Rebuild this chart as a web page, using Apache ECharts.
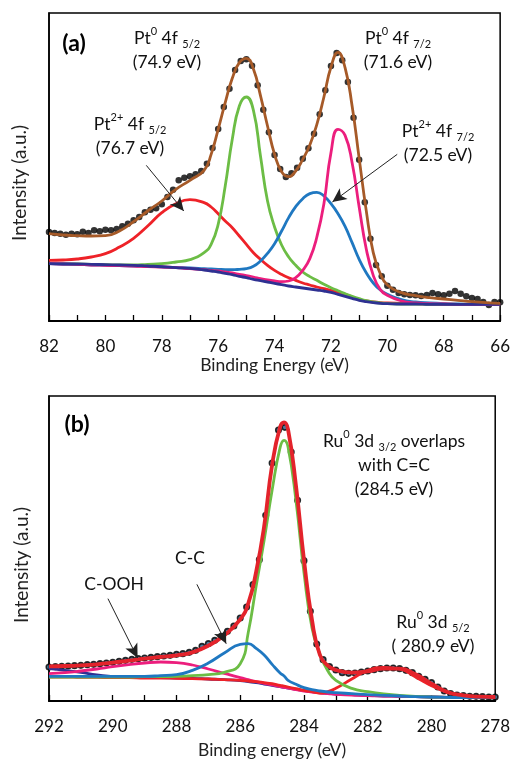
<!DOCTYPE html>
<html lang="en">
<head>
<meta charset="UTF-8">
<title>XPS Pt 4f / C 1s</title>
<script src="https://cdn.jsdelivr.net/npm/echarts@6/dist/echarts.min.js"></script>
<style>
  html, body { margin: 0; padding: 0; background: #fff; }
  #main { width: 513px; height: 760px; }
</style>
</head>
<body>
<div id="main"></div>
<script type="text/javascript">
// ---- panel (a): Pt 4f ----
// fitted curves, read on this energy grid (eV)
var eA = [82, 81.5, 81, 80.5, 80, 79.5, 79, 78.5, 78, 77.5, 77, 76.5, 76.25, 76, 75.75, 75.5, 75.25, 75, 74.75, 74.5,
          74.25, 74, 73.75, 73.5, 73.25, 73, 72.75, 72.5, 72.25, 72, 71.75, 71.5, 71.25, 71, 70.75, 70.5, 70.25, 70, 69.5, 69,
          68.5, 68, 67.5, 67, 66.5, 66];
var fitA   = [262,258,256,255,256,270,298,330,360,395,422,452,500,575,655,728,775,788,756,676,
              585,500,448,433,450,485,528,590,672,762,806,760,645,488,332,205,142,108,85,76,70,66,62,58,55,53];
var redA   = [182,183,186,192,202,222,248,285,325,352,364,355,342,322,300,280,255,230,205,185,
              167,152,140,130,122,114,108,102,97,92,86,80,72,64,60,57,55,54,53,52,51,51,50,50,50,50];
var greenA = [172,172,171,170,169,168,168,170,172,177,184,205,230,290,405,545,645,672,632,495,
              360,282,228,192,167,147,133,122,110,100,91,82,74,67,61,57,54,52,51,51,50,50,50,50,50,50];
var blueA  = [172,171,170,168,167,166,165,164,162,160,159,157,156,155,154,154,155,157,164,180,
              203,232,270,310,343,367,382,386,375,352,322,284,235,185,145,114,93,80,64,57,54,52,51,50,50,50];
var pinkA  = [172,171,170,168,167,166,165,163,162,160,157,154,152,150,147,144,140,136,132,127,
              123,120,118,120,130,152,187,252,352,505,575,557,475,342,217,137,94,77,60,54,52,51,50,50,50,50];
var bgA    = [172,171,171,170,169,168,167,165,163,160,158,153,150,147,143,139,134,130,125,121,
              117,113,109,105,102,99,96,93,90,86,80,74,68,62,58,55,53,52,51,51,50,50,50,50,50,50];
// measured points, every 0.2 eV from 82 down to 66
var dotA = [267,264,262,259,262,260,268,264,272,269,274,272,276,284,292,302,312,326,334,338,
            350,372,394,422,430,434,440,450,472,519,576,642,697,753,780,785,766,707,634,566,
            498,456,432,443,460,487,518,562,620,692,765,804,782,717,610,484,356,247,168,134,
            106,94,84,80,78,77,75,78,84,80,77,82,90,82,74,69,66,57,48,57,56];

// ---- panel (b): C 1s / Ru 3d ----
var eB = [292, 291.5, 291, 290.5, 290, 289.5, 289, 288.5, 288, 287.5, 287, 286.5, 286, 285.75, 285.5, 285.25, 285, 284.75,
          284.625, 284.5, 284.25, 284, 283.75, 283.5, 283.25, 283, 282.5, 282, 281.5, 281, 280.5, 280, 279.5, 279, 278.5, 278];
var fitB   = [104,105,107,110,115,121,127,132,137,146,166,197,245,292,388,524,708,822,
              836,815,645,424,244,138,106,93,85,89,97,97,80,52,27,17,13,12];
var greenB = [72,72,72,72,72,72,73,73,74,76,79,86,112,205,345,482,632,760,
              782,762,600,385,220,140,90,62,38,28,21,17,14,12,11,10,10,10];
var blueB  = [74,74,74,74,74,74,74,76,79,92,114,144,170,172,158,138,110,84,
              75,62,50,40,34,30,27,25,22,19,17,15,13,12,11,10,10,10];
var pinkB  = [82,85,90,96,103,109,114,117,115,108,96,83,70,64,58,53,48,43,
              41,39,34,30,27,24,22,20,18,16,15,14,13,12,11,10,10,10];
var redB   = [72,72,71,71,70,70,69,69,68,67,66,64,62,60,58,55,52,47,
              45,42,37,32,28,24,28,38,66,92,101,96,72,46,26,16,13,12];
var bgB    = [97,92,86,78,74,72,71,70,69,68,66,64,61,58,55,51,47,43,
              41,39,35,31,28,25,23,21,19,17,15,14,13,12,11,10,10,10];
// measured points, every 0.2 eV from 292 down to 278
var dotB = [102,103,104,105,106,107,109,110,112,114,116,119,122,125,127,129,131,133,135,137,
            140,142,146,152,164,172,182,194,209,225,249,282,349,424,557,714,813,821,747,602,
            421,269,171,124,103,93,85,83,84,87,90,94,97,99,99,97,92,85,74,65,
            55,42,30,22,18,16,14,14,13,12,12];

var FONT = 'Lato';

function pairs(xs, ys) {
    return xs.map(function (x, i) { return [x, ys[i]]; });
}
function sampled(start, step, ys) {
    return ys.map(function (y, i) { return [+(start - i * step).toFixed(2), y]; });
}
function curve(idx, xs, ys, color, width) {
    return {
        type: 'line', xAxisIndex: idx, yAxisIndex: idx,
        data: pairs(xs, ys), smooth: true, showSymbol: false, symbol: 'none',
        lineStyle: { color: color, width: width }, silent: true
    };
}
function arrows(list) {
    return {
        silent: true, symbol: ['none', 'arrow'], symbolSize: [10, 14],
        lineStyle: { color: '#222', width: 1, type: 'solid' },
        label: { show: false },
        data: list.map(function (a) { return [{ coord: [a[0], a[1]] }, { coord: [a[2], a[3]] }]; })
    };
}

var rich = {
    m:   { fontFamily: FONT, fontSize: 17.5, lineHeight: 24, color: '#111' },
    sup: { fontFamily: FONT, fontSize: 11, lineHeight: 16, verticalAlign: 'top', color: '#111' },
    sub: { fontFamily: FONT, fontSize: 11, lineHeight: 16, verticalAlign: 'bottom', color: '#111' }
};
function note(x, y, text) {
    return {
        type: 'text', x: x, y: y, silent: true,
        style: { text: text, rich: rich, fontFamily: FONT, fontSize: 17.5, fill: '#111',
                 textAlign: 'center', textVerticalAlign: 'top' }
    };
}
function tag(x, y, text) {
    return {
        type: 'text', x: x, y: y, silent: true,
        style: { text: text, fontFamily: FONT, fontSize: 23, fontWeight: 'bold', fill: '#000',
                 textAlign: 'center', textVerticalAlign: 'middle' }
    };
}
// rotated y title, placed by hand like in the figure
function yTitle(x, y) {
    return {
        type: 'text', x: x, y: y, rotation: Math.PI / 2, silent: true,
        style: { text: 'Intensity (a.u.)', fontFamily: FONT, fontSize: 19, fill: '#222',
                 textAlign: 'center', textVerticalAlign: 'middle' }
    };
}

function xAxisCfg(idx, min, max, name, gap) {
    return {
        type: 'value', gridIndex: idx, min: min, max: max, interval: 2, inverse: true,
        name: name, nameLocation: 'middle', nameGap: gap,
        nameTextStyle: { fontFamily: FONT, fontSize: 17.5, color: '#222' },
        axisLine: { show: true, lineStyle: { color: '#000', width: 2 } },
        axisTick: { show: true, inside: true, length: 6, lineStyle: { color: '#000', width: 1.3 } },
        minorTick: { show: true, splitNumber: 2, length: 6, lineStyle: { color: '#000', width: 1.3 } },
        axisLabel: { fontFamily: FONT, fontSize: 17, color: '#111', margin: 17 },
        splitLine: { show: false }
    };
}
function yAxisCfg(idx, max) {
    return {
        type: 'value', gridIndex: idx, min: 0, max: max,
        axisLine: { show: true, lineStyle: { color: '#000', width: 1.5 } },
        axisTick: { show: false }, axisLabel: { show: false }, splitLine: { show: false }
    };
}

var myChart = echarts.init(document.getElementById('main'), null, { renderer: 'canvas' });

var dotsA = {
    type: 'scatter', xAxisIndex: 0, yAxisIndex: 0, data: sampled(82, 0.2, dotA),
    symbolSize: 6.5, itemStyle: { color: '#000' }, silent: true,
    markLine: arrows([[78.55, 467, 77.22, 330], [69.65, 500, 71.95, 357]])
};
var dotsB = {
    type: 'scatter', xAxisIndex: 1, yAxisIndex: 1, data: sampled(292, 0.2, dotB),
    symbolSize: 5.5, itemStyle: { color: '#1f5a82', borderColor: '#000', borderWidth: 1.6 }, silent: true,
    markLine: arrows([[290.15, 307, 289.22, 129], [287.36, 350, 286.44, 172]])
};

myChart.setOption({
    animation: false,
    backgroundColor: '#fff',
    grid: [
        { left: 49, top: 13, width: 453, height: 308, show: true, borderColor: '#000', borderWidth: 1.5 },
        { left: 49, top: 396, width: 453, height: 305, show: true, borderColor: '#000', borderWidth: 1.5 }
    ],
    xAxis: [
        xAxisCfg(0, 66, 82, 'Binding Energy (eV)', 35),
        xAxisCfg(1, 278, 292, 'Binding energy (eV)', 40)
    ],
    yAxis: [yAxisCfg(0, 924), yAxisCfg(1, 915)],
    series: [
        curve(0, eA, redA, '#ee2228', 2.8),
        curve(0, eA, greenA, '#6cbd45', 2.8),
        curve(0, eA, blueA, '#1f78c1', 2.8),
        curve(0, eA, pinkA, '#ec1e7d', 2.8),
        curve(0, eA, bgA, '#2e3192', 2.8),
        curve(0, eA, fitA, '#a65a28', 2.8),
        dotsA,
        curve(1, eB, bgB, '#2e3192', 2.8),
        curve(1, eB, pinkB, '#ec1e7d', 2.8),
        curve(1, eB, redB, '#ee2228', 2.8),
        curve(1, eB, greenB, '#6cbd45', 2.8),
        curve(1, eB, blueB, '#1f78c1', 2.8),
        curve(1, eB, fitB, '#e3232b', 3.8),
        dotsB
    ],
    graphic: [
        yTitle(20, 183),
        yTitle(22, 565),
        tag(74, 44, '(a)'),
        note(167, 26, '{m|Pt}{sup|0}{m| 4f }{sub|5/2}\n{m|(74.9 eV)}'),
        note(398, 26, '{m|Pt}{sup|0}{m| 4f }{sub|7/2}\n{m|(71.6 eV)}'),
        note(130, 112, '{m|Pt}{sup|2+}{m| 4f }{sub|5/2}\n{m|(76.7 eV)}'),
        note(438, 119, '{m|Pt}{sup|2+}{m| 4f }{sub|7/2}\n{m|(72.5 eV)}'),
        tag(77, 425, '(b)'),
        note(394, 429, '{m|Ru}{sup|0}{m| 3d }{sub|3/2}{m| overlaps}\n{m|with C=C}\n{m|(284.5 eV)}'),
        note(433, 610, '{m|Ru}{sup|0}{m| 3d }{sub|5/2}\n{m|( 280.9 eV)}'),
        note(190, 546, '{m|C-C}'),
        note(114, 572, '{m|C-OOH}')
    ]
});
</script>
</body>
</html>
